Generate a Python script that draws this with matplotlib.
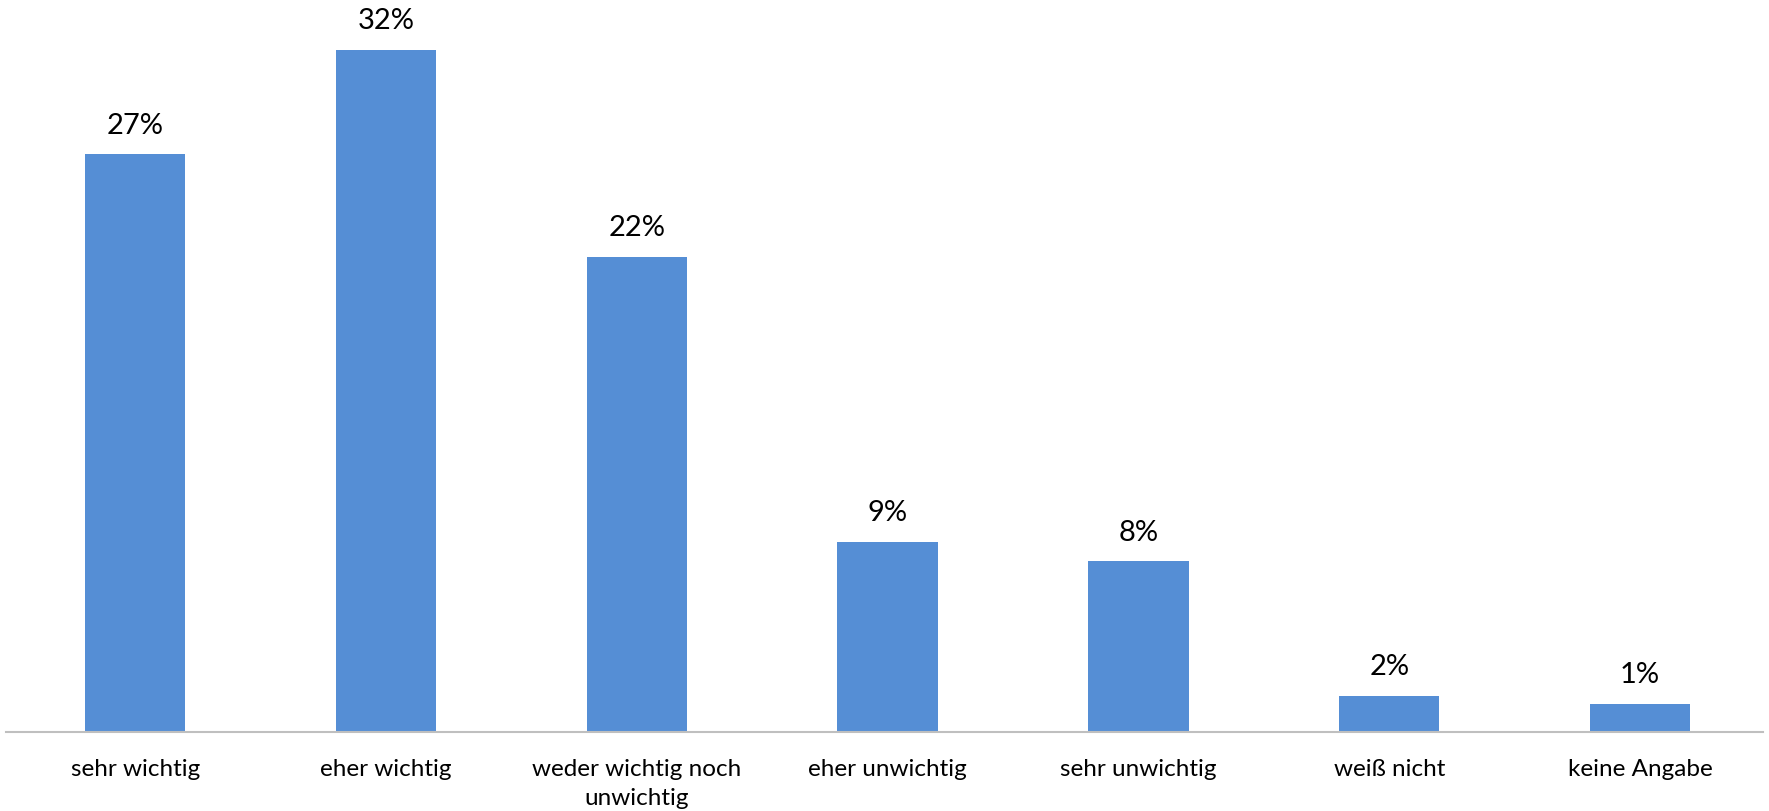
import matplotlib
matplotlib.use("Agg")
import matplotlib.pyplot as plt

categories = ["sehr wichtig", "eher wichtig", "weder wichtig noch\nunwichtig",
              "eher unwichtig", "sehr unwichtig", "weiß nicht", "keine Angabe"]
values = [27.1, 32.0, 22.3, 8.9, 8.0, 1.7, 1.3]
labels = ["27%", "32%", "22%", "9%", "8%", "2%", "1%"]

plt.rcParams['font.family'] = ['Lato', 'DejaVu Sans']

fig = plt.figure(figsize=(17.69, 8.12), dpi=100)
ax = fig.add_axes([0.0034, 0.0975, 0.9932, 0.8925])
x = list(range(len(categories)))
bars = ax.bar(x, values, width=0.4, color="#558ED5", zorder=2)
ax.set_xlim(-0.515, 6.49)
ax.set_ylim(0, 34)

for xi, v, lab in zip(x, values, labels):
    ax.annotate(lab, (xi, v), xytext=(0, 12), textcoords="offset points",
                ha="center", va="bottom", fontsize=21, color="black")

ax.set_xticks(x)
ax.set_xticklabels(categories, fontsize=17.5, linespacing=1.45)
ax.tick_params(axis="x", length=0, pad=19)
ax.set_yticks([])
for s in ["top", "right", "left"]:
    ax.spines[s].set_visible(False)
ax.spines["bottom"].set_color("#BFBFBF")
ax.spines["bottom"].set_linewidth(1.5)

fig.savefig("out.png", dpi=100)
